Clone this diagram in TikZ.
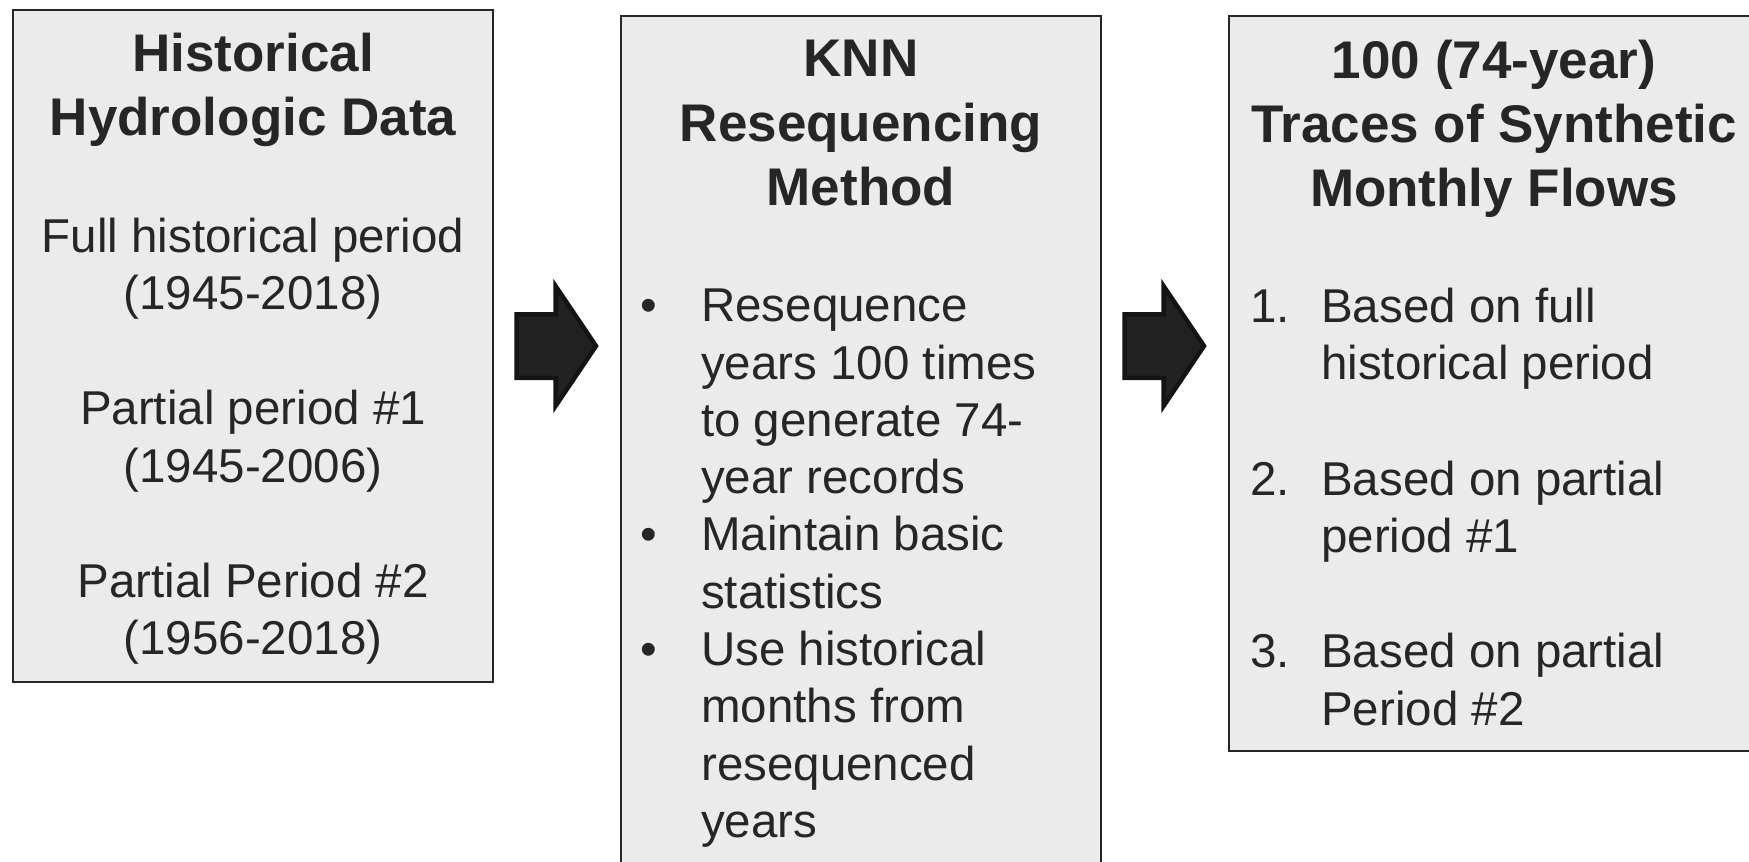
\documentclass[tikz,border=0pt]{standalone}
\usepackage{fontspec}
\setmainfont{Liberation Sans}
\usepackage{tikz}
\usetikzlibrary{shapes.arrows,positioning}
\definecolor{panelgray}{HTML}{EBEBEB}
\definecolor{inkgray}{HTML}{262626}
\definecolor{arrowfill}{HTML}{222222}
\definecolor{arrowline}{HTML}{141414}
\tikzset{%
  panel/.style      = {shape=rectangle, draw=inkgray, line width=2.2pt,%
                       fill=panelgray, inner sep=0pt, outer sep=0pt,%
                       anchor=north west},%
  heading/.style    = {font=\bfseries\fontsize{53}{64}\selectfont,%
                       inner sep=0pt, anchor=base},%
  entry/.style      = {font=\fontsize{47.5}{57.5}\selectfont,%
                       inner sep=0pt, anchor=base},%
  leftentry/.style  = {entry, anchor=base west},%
  blockarrow/.style = {single arrow, fill=arrowfill, draw=arrowline,%
                       line width=4.5pt, inner sep=0pt, outer sep=0pt,%
                       text height=29.5pt, text depth=29.5pt,%
                       minimum height=79.5,%
                       single arrow head extend=28,%
                       single arrow tip angle=112, anchor=tail}%
}
\begin{document}
\begin{tikzpicture}
              [x=1pt, y=-1pt, every node/.style={text=inkgray}]
              \useasboundingbox (0,0) rectangle (1749,862);
              % -------------- the three panels -----------------------------
              \node [panel, minimum width=480, minimum height=672] (hist) at (13,10) {};
              \node [panel, minimum width=480, minimum height=900] (knn) at (621,16) {};
              \node [panel, minimum width=530, minimum height=735] (synth) at (1229,16) {};
              % -------------- historical data -----------------------------
              \node [heading] (hist-h1) at (253,71.5) {Historical};
              \node [heading] (hist-h2) at (253,135) {Hydrologic Data};
              \node [entry] (hist-1) at (253,252) {Full historical period};
              \node [entry] (hist-2) at (253,309.5) {(1945-2018)};
              \node [entry] (hist-3) at (253,424.5) {Partial period \#1};
              \node [entry] (hist-4) at (253,482) {(1945-2006)};
              \node [entry] (hist-5) at (253,597) {Partial Period \#2};
              \node [entry] (hist-6) at (253,654.5) {(1956-2018)};
              % -------------- resequencing -----------------------------
              \node [heading] (knn-h1) at (861,76) {KNN};
              \node [heading] (knn-h2) at (861,141) {Resequencing};
              \node [heading] (knn-h3) at (861,205.5) {Method};
              \node [entry] (knn-b1) at (648.5,321.7) {•};
              \node [entry] (knn-b2) at (648.5,550.9) {•};
              \node [entry] (knn-b3) at (648.5,665.5) {•};
              \node [leftentry] (knn-1) at (701,321.7) {Resequence};
              \node [leftentry] (knn-2) at (701,379) {years 100 times};
              \node [leftentry] (knn-3) at (701,436.3) {to generate 74-};
              \node [leftentry] (knn-4) at (701,493.6) {year records};
              \node [leftentry] (knn-5) at (701,550.9) {Maintain basic};
              \node [leftentry] (knn-6) at (701,608.2) {statistics};
              \node [leftentry] (knn-7) at (701,665.5) {Use historical};
              \node [leftentry] (knn-8) at (701,722.8) {months from};
              \node [leftentry] (knn-9) at (701,780.1) {resequenced};
              \node [leftentry] (knn-10) at (701,837.4) {years};
              % -------------- synthetic traces -----------------------------
              \node [heading] (synth-h1) at (1494,78) {100 (74-year)};
              \node [heading] (synth-h2) at (1494,142.4) {Traces of Synthetic};
              \node [heading] (synth-h3) at (1494,206.5) {Monthly Flows};
              \node [leftentry] (synth-n1) at (1250,322) {1.};
              \node [leftentry] (synth-n2) at (1250,495) {2.};
              \node [leftentry] (synth-n3) at (1250,667.5) {3.};
              \node [leftentry] (synth-1) at (1321,322) {Based on full};
              \node [leftentry] (synth-2) at (1321,379.5) {historical period};
              \node [leftentry] (synth-3) at (1321,495) {Based on partial};
              \node [leftentry] (synth-4) at (1321,552.5) {period \#1};
              \node [leftentry] (synth-5) at (1321,667.5) {Based on partial};
              \node [leftentry] (synth-6) at (1321,725) {Period \#2};
              % -------------- block arrows -----------------------------
              \node [blockarrow] (arr1) at ([xshift=23.5pt]hist.east) {};
              \node [blockarrow] (arr2) at ([xshift=23.5pt]knn.east |- arr1.tail) {};
\end{tikzpicture}
\end{document}
